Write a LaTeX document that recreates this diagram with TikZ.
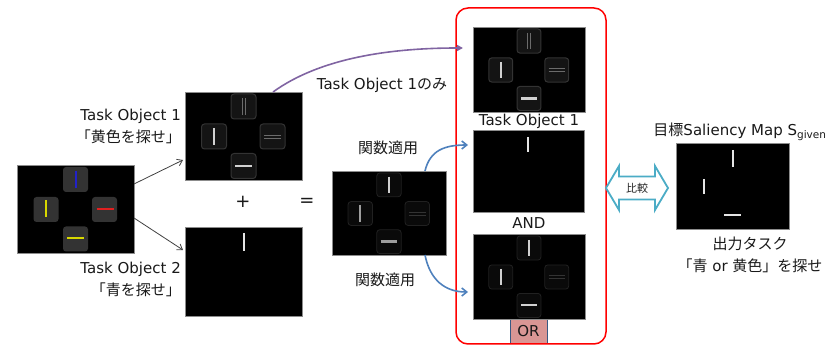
\documentclass[tikz,border=0pt]{standalone}
\usepackage{fontspec}
\setmainfont{DejaVu Sans}
\newfontfamily\jp{Noto Sans CJK JP}
\usetikzlibrary{arrows.meta,calc}
\definecolor{tkpurple}{HTML}{8064A2}
\definecolor{tkblue}{HTML}{4F81BD}
\definecolor{tkcyan}{HTML}{4BACC6}
\definecolor{tkpink}{HTML}{D99694}
\definecolor{tkyellow}{HTML}{D8D800}
\definecolor{tkbluel}{HTML}{2222C8}
\definecolor{tkred}{HTML}{E02020}
\newcommand\tkV[3]{\draw[#3] (#1,#2-8.5) -- (#1,#2+8.5);}
\newcommand\tkH[3]{\draw[#3] (#1-8.5,#2) -- (#1+8.5,#2);}
\newcommand\tkVV[3]{\draw[#3] (#1-1.5,#2-8.5) -- (#1-1.5,#2+8.5) (#1+1.5,#2-8.5) -- (#1+1.5,#2+8.5);}
\newcommand\tkHH[3]{\draw[#3] (#1-8.5,#2-1.5) -- (#1+8.5,#2-1.5) (#1-8.5,#2+1.5) -- (#1+8.5,#2+1.5);}
\newcommand\tkTiles[1]{\foreach \cx/\cy in {58.5/14.5,29/44.5,87.5/44.5,58.5/74}
  {\draw[#1] (\cx-12.5,\cy-12.5) rectangle (\cx+12.5,\cy+12.5);}}
\begin{document}
\begin{tikzpicture}[x=1pt,y=-1pt,
  imgbox/.style={draw=black!45,line width=0.8pt,fill=black,inner sep=0pt,outer sep=0pt},
  lbl/.style={font=\fontsize{15}{22}\selectfont,inner sep=0pt,text=black!90},
  tin/.style={fill=black!80,draw=none,rounded corners=3pt},
  tdark/.style={fill=black!92,draw=black!80,line width=1pt,rounded corners=3pt},
  tfaint/.style={fill=black!96,draw=black!87,line width=0.8pt,rounded corners=3pt},
  bright/.style={draw=black!18,line width=2.4pt},
  medium/.style={draw=black!38,line width=2pt},
  faint/.style={draw=black!58,line width=0.6pt},
  vfaint/.style={draw=black!80,line width=0.6pt},
  thinw/.style={draw=black!10,line width=1.4pt},
  grayarrow/.style={draw=black!75,line width=0.8pt,-{Straight Barb[length=5pt,width=7pt]}},
  bluearrow/.style={draw=tkblue,line width=1.6pt,-{Straight Barb[length=5pt,width=8pt]}},
  purplearrow/.style={draw=tkpurple,line width=1.6pt,-{Triangle[length=6pt,width=6pt]}}]
\useasboundingbox (0,0) rectangle (836,347);

% image boxes
\node[imgbox,minimum width=117pt,minimum height=88pt] (in) at (75.5,209) {};
\node[imgbox,minimum width=117pt,minimum height=88pt] (to1) at (243.5,136) {};
\node[imgbox,minimum width=117pt,minimum height=89pt] (to2) at (243.5,271.5) {};
\node[imgbox,minimum width=114pt,minimum height=84pt] (comb) at (389,213) {};
\node[imgbox,minimum width=112pt,minimum height=85pt] (boxA) at (529,69.5) {};
\node[imgbox,minimum width=111pt,minimum height=82pt] (boxB) at (528.5,171) {};
\node[imgbox,minimum width=112pt,minimum height=85pt] (boxC) at (529,276.5) {};
\node[imgbox,minimum width=113pt,minimum height=86pt] (tgt) at (732.5,186) {};

% input tiles
\begin{scope}[shift={(in.north west)}]
  \tkTiles{tin}
  \tkV{58.5}{15}{draw=tkbluel,line width=2pt}
  \tkV{29}{44}{draw=tkyellow,line width=2pt}
  \tkH{88}{43.7}{draw=tkred,line width=2pt}
  \tkH{58.5}{73}{draw=tkyellow,line width=2pt}
\end{scope}
% task object 1 tiles
\begin{scope}[shift={(to1.north west)}]
  \tkTiles{tdark}
  \tkVV{58.5}{14.5}{faint}
  \tkV{29}{44.5}{bright}
  \tkHH{87.5}{44.5}{faint}
  \tkH{58.5}{74}{bright}
\end{scope}
% task object 2
\begin{scope}[shift={(to2.north west)}]
  \draw[thinw] (59,6) -- (59,24);
\end{scope}
% combined
\begin{scope}[shift={(comb.north west)},xscale=0.974,yscale=0.955]
  \tkTiles{tfaint}
  \tkV{58.5}{14.5}{bright,line width=2pt}
  \tkV{29}{44.5}{medium}
  \tkHH{87.5}{44.5}{vfaint}
  \tkH{58.5}{74}{medium,line width=2.4pt}
\end{scope}
% box A
\begin{scope}[shift={(boxA.north west)},xscale=0.957,yscale=0.966]
  \tkTiles{tdark}
  \tkVV{58.5}{14.5}{faint}
  \tkV{29}{44.5}{bright}
  \tkHH{87.5}{44.5}{faint}
  \tkH{58.5}{74}{bright}
\end{scope}
% box B
\begin{scope}[shift={(boxB.north west)}]
  \draw[thinw] (55,7) -- (55,22);
\end{scope}
% box C
\begin{scope}[shift={(boxC.north west)},xscale=0.957,yscale=0.966]
  \tkTiles{tfaint}
  \tkV{58.5}{14.5}{bright,line width=2pt}
  \tkV{29}{44.5}{bright,line width=2pt}
  \tkHH{87.5}{44.5}{vfaint}
  \tkH{58.5}{74}{bright,line width=2pt}
\end{scope}
% target
\begin{scope}[shift={(tgt.north west)}]
  \draw[thinw] (57,7) -- (57,24);
  \draw[thinw] (28,36) -- (28,51);
  \draw[thinw] (48,72) -- (65,72);
\end{scope}

% red group box
\node[draw=red,line width=1.5pt,rounded corners=12pt,minimum width=150pt,minimum height=336pt,inner sep=0pt] (grp) at (531,176) {};

% labels
\node[lbl,anchor=east,align=right] (l1) at (181,126) {Task Object 1\\{\jp 「黄色を探せ」}};
\node[lbl,anchor=east,align=right] (l2) at (181,279) {Task Object 2\\{\jp 「青を探せ」}};
\node[lbl,font=\fontsize{18}{20}\selectfont] (plus) at (243,202) {+};
\node[lbl,font=\fontsize{18}{20}\selectfont] (eq) at (307,202) {=};
\node[lbl] (only) at (382,85) {Task Object 1{\jp のみ}};
\node[lbl] (f1) at (388,148) {\jp 関数適用};
\node[lbl] (f2) at (385,280) {\jp 関数適用};
\node[lbl] (la) at (529,121) {Task Object 1};
\node[lbl] (land) at (529,223) {AND};
\node[lbl,fill=tkpink,minimum width=37pt,minimum height=23pt] (lor) at (528.5,331.5) {OR};
\draw[tkblue!70!black,line width=0.6pt] (lor.north west) -- (lor.south west) (lor.north east) -- (lor.south east);
\node[lbl] (ttl) at (740,132) {{\jp 目標}Saliency Map S\textsubscript{given}};
\node[lbl,align=center] (task) at (750,254.5) {{\jp 出力タスク}\\{\jp 「青} or {\jp 黄色」を探せ}};

% compare double arrow
\draw[draw=tkcyan,line width=1.8pt,fill=white,line join=miter]
  (606,188) -- (619,166) -- (619,176.5) -- (655,176.5) -- (655,166) -- (668,188)
  -- (655,210) -- (655,199.5) -- (619,199.5) -- (619,210) -- cycle;
\node[font=\fontsize{11}{12}\selectfont\jp,inner sep=0pt,text=black!85] (cmp) at (637,188) {比較};

% connectors
\draw[grayarrow] ([yshift=25pt]in.east) -- ([xshift=-2pt,yshift=-24pt]to1.west);
\draw[grayarrow] ([yshift=-9pt]in.east) -- ([xshift=-2pt,yshift=21.5pt]to2.west);
\coordinate (aP) at (463,48);
\coordinate (aT) at (468,145);
\coordinate (aB) at (468,292);
\draw[purplearrow] ([xshift=29.5pt]to1.north) .. controls (320,58) and (390,48) .. (aP);
\draw[bluearrow] ([xshift=36pt]comb.north) .. controls (430,150) and (445,145) .. (aT);
\draw[bluearrow] ([xshift=36pt]comb.south) .. controls (430,280) and (445,292) .. (aB);
\end{tikzpicture}
\end{document}
